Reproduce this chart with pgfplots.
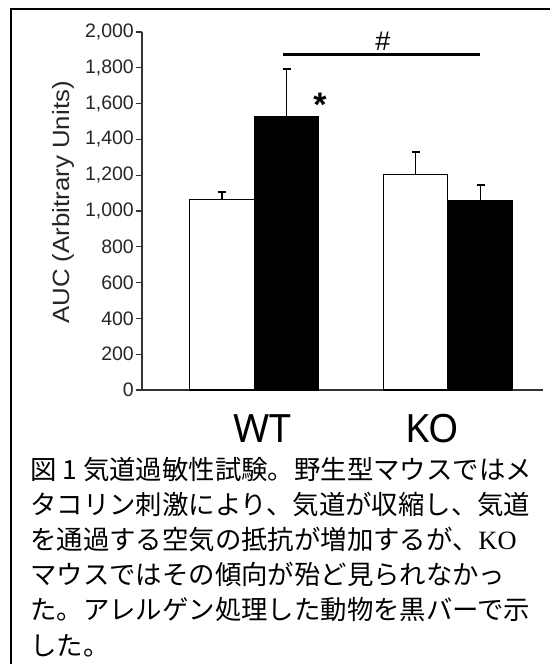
\documentclass[border=0pt]{standalone}
\usepackage{pgfplots}
\pgfplotsset{compat=1.18}
\usepackage{graphicx}
\usepackage{fontspec}
\setmainfont{Liberation Sans}
\newfontfamily\cjk{Noto Sans CJK JP}
\newfontfamily\notosans{Noto Sans}
\newfontfamily\lserif{Liberation Serif}
\begin{document}
\begin{tikzpicture}
\useasboundingbox (0bp,0bp) rectangle (550bp,664bp);
\draw[line width=2.2bp] (11bp,0bp) -- (11bp,655bp) -- (550bp,655bp);
\begin{axis}[
  at={(142bp,274bp)}, anchor=south west,
  scale only axis, width=401bp, height=358bp,
  xmin=0, xmax=401, ymin=0, ymax=2000,
  axis lines=left,
  axis line style={-, line width=1.4bp, draw=black!80},
  ytick={0,200,...,2000},
  /pgf/number format/assume math mode=true,
  yticklabel style={font=\fontsize{19.5bp}{22bp}\selectfont, text=black!85, inner sep=2bp, /pgf/number format/1000 sep={,}},
  ytick style={line width=1.2bp, draw=black!80},
  tick align=outside, major tick length=6bp,
  xtick={120,290}, xticklabels={WT,KO},
  xtick style={draw=none},
  xticklabel style={font=\notosans\fontsize{39bp}{42bp}\selectfont, anchor=base, inner sep=0pt, yshift=-47bp},
  clip=false,
]
\addplot[ybar, bar width=64.5, bar shift=0pt, fill=white, draw=black, line width=1.4bp,
  error bars/.cd, y dir=plus, y explicit,
  error bar style={line width=1.4bp, draw=black},
  error mark options={rotate=90, line width=2.2bp, mark size=4bp, draw=black}]
  coordinates {(80,1065) +- (0,39) (273.5,1203) +- (0,125)};
\addplot[ybar, bar width=64.5, bar shift=0pt, fill=black, draw=black, line width=1.4bp,
  error bars/.cd, y dir=plus, y explicit,
  error bar style={line width=1.4bp, draw=black},
  error mark options={rotate=90, line width=2.2bp, mark size=4bp, draw=black}]
  coordinates {(144.5,1527) +- (0,266) (338.5,1058) +- (0,87)};
\draw[line width=3bp] (axis cs:141,1875) -- (axis cs:338,1875);
\node[font=\fontsize{27bp}{29bp}\selectfont, inner sep=0pt] at (axis cs:241,1950) {\#};
\node[font=\bfseries\fontsize{34bp}{36bp}\selectfont, anchor=north, inner sep=0pt] at (axis cs:178,1659) {*};
\end{axis}
\node[rotate=90, inner sep=0pt, font=\fontsize{23.5bp}{26bp}\selectfont, text=black!85] at (63bp,461.5bp) {\scalebox{1.1}[1]{AUC (Arbitrary Units)}};
\begin{scope}[every node/.style={anchor=base west, inner sep=0pt, font=\cjk\fontsize{26.4bp}{30bp}\selectfont}]
\node at (30bp,184bp) {図 1 気道過敏性試験。野生型マウスではメ};
\node at (30bp,149bp) {タコリン刺激により、気道が収縮し、気道};
\node at (30bp,114bp) {を通過する空気の抵抗が増加するが、{\lserif KO}};
\node at (30bp,79bp) {マウスではその傾向が殆ど見られなかっ};
\node at (30bp,44bp) {た。アレルゲン処理した動物を黒バーで示};
\node at (30bp,9bp) {した。};
\end{scope}
\end{tikzpicture}
\end{document}
